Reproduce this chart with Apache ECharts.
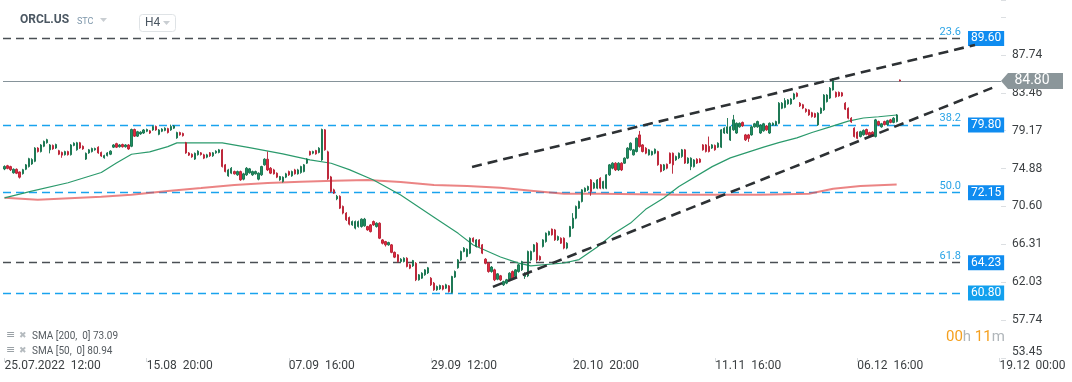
<!DOCTYPE html>
<html><head><meta charset="utf-8">
<script src="https://cdn.jsdelivr.net/npm/echarts@6/dist/echarts.min.js"></script>
<style>html,body{margin:0;padding:0;background:#fff;}#c{width:1072px;height:382px;}</style>
</head><body><div id="c"></div>
<script>
// ---------------- data ----------------
const symbolName = 'ORCL.US';
const symbolType = 'STC';
const timeframe = 'H4';
// [open, close, low, high] per H4 bar, starting 25.07.2022 12:00
const ohlc = [
[74.83,75.12,74.70,75.25],[75.20,74.90,74.80,75.30],[75.10,74.75,74.60,75.20],[74.40,74.80,74.30,74.90],[74.80,74.35,74.25,74.90],
[74.50,73.90,73.75,74.55],[74.30,74.75,74.20,74.85],[74.80,75.30,74.70,75.40],[75.10,76.00,75.00,76.10],[75.40,75.90,75.30,76.05],
[75.70,77.20,75.60,77.30],[77.20,76.80,76.70,77.30],[76.80,77.55,76.70,77.65],[77.40,77.95,77.30,78.05],[77.80,78.15,77.70,78.25],
[77.00,77.55,76.60,77.65],[77.50,77.10,77.00,77.60],[77.20,77.60,77.10,77.70],[76.90,76.50,76.40,77.00],[76.70,76.40,76.10,76.80],
[76.45,76.80,76.35,76.90],[76.80,76.45,76.35,76.90],[76.45,77.55,76.35,77.65],[77.50,77.75,77.40,77.85],[77.00,77.80,76.90,77.90],
[77.80,77.20,77.10,77.90],[77.40,77.10,77.00,77.50],[75.95,76.60,75.85,76.70],[76.65,77.00,76.55,77.10],[76.80,77.15,76.70,77.25],
[77.00,77.15,76.90,77.25],[77.30,76.65,76.55,77.40],[76.70,76.30,76.20,76.80],[76.10,76.35,76.00,76.45],[76.35,76.65,76.25,76.75],
[76.50,76.85,76.40,76.95],[77.30,77.55,77.20,77.65],[77.70,77.30,77.20,77.80],[77.35,77.55,77.25,77.65],[77.60,77.35,77.25,77.70],
[77.35,77.55,77.25,77.65],[77.55,77.10,77.00,77.65],[77.40,79.30,77.30,79.40],[79.30,78.55,78.45,79.40],[78.55,79.05,78.45,79.15],
[78.80,79.00,78.70,79.10],[78.90,79.25,78.80,79.35],[79.10,79.30,79.00,79.40],[79.15,78.90,78.80,79.25],[79.25,79.65,79.15,79.75],
[79.65,79.25,79.15,79.75],[78.75,79.25,78.65,79.35],[79.10,79.35,79.00,79.45],[79.20,79.45,79.10,79.55],[79.40,78.95,78.85,79.50],
[79.25,79.65,79.15,79.85],[79.45,79.70,79.35,79.80],[78.35,78.95,78.25,79.05],[78.95,78.70,78.60,79.05],[78.85,78.60,78.50,78.95],
[77.80,76.65,76.55,77.90],[76.65,76.40,76.30,76.75],[76.50,76.20,76.10,76.60],[75.95,76.60,75.85,76.70],[76.45,76.85,76.35,76.95],
[76.66,76.47,76.35,76.75],[76.43,76.06,75.95,76.55],[76.17,76.43,76.05,76.55],[76.66,76.32,76.20,76.75],[76.32,76.66,76.20,76.75],
[76.66,76.85,76.55,76.95],[76.70,77.00,76.60,77.10],[77.00,75.11,75.00,77.10],[75.30,74.54,74.45,75.40],[74.05,74.73,73.95,74.85],
[74.36,74.92,74.25,75.05],[74.54,74.28,74.20,74.65],[74.17,74.54,74.05,74.65],[74.54,73.60,73.50,74.65],[73.68,74.28,73.55,74.40],
[74.17,74.92,74.05,75.05],[74.40,74.85,74.30,74.95],[74.17,74.54,74.05,74.65],[74.28,74.54,74.20,74.65],[73.68,74.36,73.55,74.45],
[74.17,75.11,74.05,75.20],[75.30,75.94,75.20,76.05],[75.94,74.73,74.60,76.81],[74.92,74.36,74.25,75.05],[74.73,74.28,74.20,74.85],
[74.36,73.91,73.80,74.45],[73.60,73.98,73.50,74.05],[73.41,73.91,73.30,74.00],[73.91,74.28,73.80,74.40],[74.54,74.17,74.05,74.65],
[74.05,74.54,73.95,74.65],[74.73,74.28,74.20,74.85],[74.28,74.73,74.20,74.85],[74.43,75.11,74.30,75.20],[74.54,75.30,74.45,75.40],
[75.49,75.94,75.40,76.05],[76.81,76.43,76.35,76.90],[76.62,76.81,76.50,76.90],[76.92,76.54,76.45,77.00],[76.70,77.19,76.60,77.30],
[75.86,79.30,75.75,79.40],[79.26,77.00,76.90,79.35],[76.77,73.72,73.60,76.90],[73.94,72.28,72.15,74.05],[72.47,72.10,72.00,72.60],
[71.45,71.74,71.30,71.90],[71.74,70.40,70.30,71.85],[70.60,69.84,69.70,70.70],[69.84,69.08,68.95,69.95],[69.34,68.59,68.45,69.45],
[68.51,68.89,68.40,69.00],[68.14,68.89,68.00,69.00],[68.32,68.89,68.20,69.00],[68.32,69.16,68.20,69.25],[68.40,69.16,68.30,69.30],
[68.32,67.94,67.85,68.40],[68.51,67.75,67.65,68.60],[68.89,68.51,68.40,69.00],[68.32,68.70,68.20,68.80],[68.70,67.00,66.90,68.80],
[66.81,66.43,66.30,66.90],[66.62,66.25,66.06,66.70],[66.25,66.51,66.15,66.60],[66.25,65.40,65.30,66.35],[65.40,64.86,64.75,65.50],
[65.12,64.36,64.25,65.20],[64.36,64.63,64.25,64.75],[64.36,64.74,64.25,64.85],[64.74,63.80,63.70,64.85],[63.99,63.61,63.50,64.10],
[63.87,64.47,63.75,64.55],[64.17,62.29,62.15,64.30],[62.29,62.86,62.20,62.95],[62.48,63.05,62.40,63.15],[62.86,63.42,62.75,63.50],
[63.08,63.65,62.95,63.75],[62.48,61.73,61.60,62.60],[61.92,61.16,61.05,62.05],[61.16,61.54,61.05,61.65],[61.27,61.65,61.15,61.75],
[61.61,61.24,61.10,61.70],[61.35,61.73,61.25,61.85],[61.61,60.97,60.85,61.70],[60.85,62.67,60.75,62.75],[62.60,63.23,62.50,63.35],
[63.65,64.55,63.55,64.65],[64.55,65.50,64.45,65.60],[65.50,65.88,65.40,66.00],[64.93,65.76,64.85,65.85],[65.31,67.00,65.20,67.10],
[67.00,66.62,66.50,67.10],[66.06,66.81,65.95,66.90],[66.81,66.06,65.95,66.90],[66.25,65.31,65.20,66.35],[64.63,64.17,64.05,64.75],
[64.17,63.23,63.10,64.30],[63.23,63.74,63.10,63.85],[63.42,62.29,62.15,63.55],[62.36,62.97,62.25,63.05],[62.75,62.29,62.15,62.85],
[61.73,62.10,61.60,62.20],[61.92,62.29,61.80,62.40],[62.37,63.05,62.25,63.15],[63.23,62.48,62.35,63.35],[62.67,63.42,62.55,63.50],
[63.23,63.99,63.10,64.10],[63.42,64.36,63.30,64.45],[62.67,63.05,62.40,63.15],[62.74,65.50,62.60,65.60],[64.55,65.50,64.45,65.60],
[65.50,66.25,65.40,66.35],[66.44,64.55,64.35,66.55],[64.93,64.55,64.45,65.05],[66.06,66.81,65.95,66.90],[66.62,67.57,66.50,67.65],
[67.38,67.75,67.30,67.85],[68.03,67.38,67.30,68.10],[67.94,66.81,66.70,68.05],[66.81,67.19,66.70,67.30],[67.00,66.44,66.35,67.10],
[67.00,65.88,65.75,67.10],[65.88,66.44,65.75,66.55],[67.19,68.32,67.10,68.40],[68.15,69.27,68.05,69.84],[69.27,70.60,69.15,70.70],
[70.40,71.15,70.30,71.25],[71.15,72.47,71.05,72.55],[72.28,72.66,72.20,72.75],[72.47,72.85,72.35,72.95],[73.60,72.28,71.80,73.70],
[72.66,73.23,72.55,73.35],[72.66,73.60,72.55,73.70],[73.79,72.66,72.55,73.90],[72.66,73.42,72.55,73.50],[72.66,74.17,72.55,74.25],
[74.17,75.30,74.05,75.40],[74.92,75.49,74.80,75.60],[75.49,74.73,74.60,75.60],[74.73,75.49,74.60,75.60],[75.49,74.73,74.60,75.60],
[75.49,76.06,75.40,76.15],[76.06,77.19,75.95,77.30],[77.00,77.75,76.90,77.85],[76.43,77.00,76.35,77.10],[76.81,78.32,76.70,78.40],
[78.69,77.37,77.25,79.14],[77.56,76.81,76.70,77.65],[77.19,76.62,76.50,77.30],[76.43,77.00,76.35,77.10],[76.43,76.81,76.35,76.90],
[76.62,77.07,76.50,77.15],[76.81,75.30,75.20,76.90],[75.30,74.55,74.45,75.40],[74.73,75.30,74.60,75.40],[75.37,74.92,74.80,75.45],
[76.62,75.49,75.40,76.70],[76.62,75.30,74.30,76.70],[75.86,76.24,75.75,76.35],[76.09,76.62,75.95,76.70],
[76.24,77.00,76.10,77.10],[77.00,75.50,75.40,77.10],[75.50,76.06,75.40,76.15],[75.10,76.06,74.70,76.15],[75.10,75.86,75.00,75.95],
[75.94,75.50,75.40,76.05],[75.94,75.60,75.50,76.05],[77.56,77.00,76.90,77.65],[77.56,76.81,76.70,77.65],[77.40,76.81,76.70,78.50],
[77.20,77.56,77.10,77.65],[77.50,77.00,76.90,77.60],[77.30,77.75,77.20,77.85],[77.30,79.26,77.20,79.35],[78.90,79.45,78.80,79.55],
[78.90,79.60,78.80,80.60],[78.10,79.60,78.00,79.70],[79.26,80.39,79.15,80.95],[78.90,80.00,78.80,80.10],[79.60,80.00,79.50,80.10],
[80.10,79.70,79.60,80.20],[78.69,78.13,78.00,78.80],[78.69,78.30,77.90,78.80],[78.69,79.60,78.60,79.70],[79.60,79.95,79.50,80.05],
[79.60,80.20,79.50,80.30],[78.90,79.80,78.80,79.90],[79.15,79.95,79.05,80.05],[79.70,79.26,79.15,79.80],[78.90,80.00,78.80,80.10],
[79.80,80.00,79.70,80.10],[79.80,80.20,79.70,80.30],[80.00,82.28,79.90,82.40],[81.70,82.28,81.60,82.40],[81.80,82.57,81.70,82.85],
[82.20,82.65,82.10,82.75],[82.20,82.75,82.10,82.85],[82.75,83.33,82.65,83.45],[83.40,83.05,82.95,83.50],[82.28,81.97,81.85,82.40],
[82.10,81.72,81.60,82.20],[81.60,81.33,81.20,81.70],[81.52,80.95,80.85,81.60],[81.20,80.76,80.65,81.30],[81.10,80.70,80.60,81.20],
[79.82,81.15,79.70,81.25],[81.15,81.70,81.05,81.80],[81.52,83.20,81.40,83.30],[82.45,83.20,82.35,83.30],[82.85,83.97,82.75,84.10],
[83.78,84.85,83.70,85.10],[83.50,83.00,82.90,83.60],[83.50,83.10,83.00,83.60],[83.45,83.10,83.00,83.55],[82.28,81.60,81.50,82.40],
[81.70,80.58,80.45,81.80],[80.58,80.15,80.05,80.70],[79.45,78.50,78.40,79.55],[79.00,78.30,78.20,79.10],[78.50,79.05,78.40,79.15],
[78.70,79.20,78.60,79.30],[79.30,78.75,78.65,79.40],[78.95,78.60,78.50,79.05],[79.00,78.55,78.45,79.10],[78.50,80.39,78.40,80.50],
[80.20,79.82,79.70,80.30],[79.60,79.95,79.50,80.05],[80.20,79.85,79.75,80.30],[79.85,80.30,79.75,80.40],[80.39,80.10,80.00,80.50],
[80.10,80.58,80.00,80.70],[80.20,80.95,80.10,81.05],[84.90,84.80,84.75,84.95]
];
// SMA readings [bar index, value]
const sma200 = [[0,71.57],[11,71.34],[32,71.68],[42,71.93],[54,72.34],[65,72.68],[76,73.03],[87,73.26],[98,73.38],[109,73.49],[120,73.60],[131,73.37],[142,73.03],[153,72.92],[164,72.70],[175,72.35],[185,72.02],[197,72.02],[223,71.91],[250,71.91],[266,72.02],[274,72.60],[283,72.90],[295,73.09]];
const sma50 = [[0,71.57],[9,72.33],[21,73.28],[32,74.43],[37,75.50],[42,76.50],[48,76.77],[54,77.36],[57,77.79],[65,77.79],[72,77.79],[81,77.24],[92,76.55],[101,75.86],[108,75.48],[114,74.76],[122,73.58],[131,71.88],[142,69.38],[150,67.55],[155,66.24],[164,64.88],[170,64.18],[174,63.87],[185,64.20],[190,64.58],[196,66.00],[201,67.41],[207,68.71],[212,70.27],[218,71.55],[223,72.86],[234,75.10],[240,76.09],[251,77.31],[256,77.82],[262,78.35],[267,78.96],[273,79.60],[279,80.25],[284,80.60],[289,80.74],[295,80.94]];
// trend channel anchors [bar index, price]
const channelUpper = [[154.6,75.07],[320.9,88.87]];
const channelLower = [[161.5,61.50],[326.6,84.01]];
// Fibonacci retracement levels
const fibPrices = [89.60, 79.80, 72.15, 64.23, 60.80];
const fibRatios = ['23.6', '38.2', '50.0', '61.8', ''];
const lastPrice = 84.80;
const sma200Last = 73.09, sma50Last = 80.94;
const xTickLabels = {0:'25.07.2022  12:00', 47:'15.08  20:00', 94:'07.09  16:00', 141:'29.09  12:00', 188:'20.10  20:00', 235:'11.11  16:00', 282:'06.12  16:00', 329:'19.12  00:00'};
const yTickLabels = ['53.45','57.74','62.03','66.31','70.60','74.88','79.17','83.46','87.74'];
const slotCount = 330;
const categories = Array.from({length: slotCount}, (_, i) => String(i));

// ---------------- styles ----------------
const FONT = 'Roboto, "DejaVu Sans", sans-serif';
const fibLineColors = ['#4a4f54', '#19a3ee', '#19a3ee', '#4a4f54', '#19a3ee'];
const fibBoxColors = ['#0f8cf0', '#0f8cf0', '#0f8cf0', '#0f8cf0', '#12a0ee'];
const yMin = 53.45, yStep = 4.28625, yMax = 93.95;
const levelEnd = 317.6, axisEnd = slotCount - 0.5;

const chart = echarts.init(document.getElementById('c'), null, {renderer: 'canvas'});

const levelData = [];
fibPrices.forEach((p, k) => {
  levelData.push([
    {coord: [-0.5, p], lineStyle: {color: fibLineColors[k], type: [8, 5], width: 1.3},
     label: {show: true, position: 'end', distance: 3, formatter: p.toFixed(2), backgroundColor: fibBoxColors[k],
             color: '#fff', fontSize: 12, fontFamily: FONT, padding: [2, 3, 1, 3], lineHeight: 12}},
    {coord: [levelEnd, p]}
  ]);
  if (fibRatios[k]) {
    levelData.push([
      {coord: [-0.5, p], lineStyle: {color: 'rgba(0,0,0,0)', width: 0.01, type: 'solid'},
       label: {show: true, position: 'insideEndTop', distance: 1, offset: [-3, 0], formatter: fibRatios[k],
               color: '#2ba4e6', fontSize: 11, fontFamily: FONT}},
      {coord: [levelEnd, p]}
    ]);
  }
});
levelData.push([
  {coord: [-0.5, lastPrice], lineStyle: {color: '#86939a', type: 'solid', width: 1}, label: {show: false}},
  {coord: [axisEnd, lastPrice]}
]);

const option = {
  animation: false,
  backgroundColor: '#ffffff',
  grid: {left: 3, right: 71, top: 0, bottom: 24, containLabel: false, outerBoundsMode: 'none'},
  xAxis: [
    {type: 'category', data: categories, boundaryGap: true, gridIndex: 0,
     axisLine: {show: false, onZero: false},
     axisTick: {show: true, alignWithLabel: true, length: 4, interval: (i) => xTickLabels[i] !== undefined, lineStyle: {color: '#d8dcdf'}},
     axisLabel: {interval: (i) => xTickLabels[i] !== undefined, formatter: (v, i) => xTickLabels[i] || '', align: 'left',
                 color: '#3c4043', fontSize: 12, fontFamily: FONT, margin: 2},
     splitLine: {show: false}},
    {type: 'value', min: -0.5, max: axisEnd, show: false, gridIndex: 0, axisLine: {onZero: false}}
  ],
  yAxis: {type: 'value', position: 'right', min: yMin, max: yMax, interval: yStep, scale: false,
    axisLine: {show: false, onZero: false}, splitLine: {show: false},
    axisTick: {show: true, length: 5, lineStyle: {color: '#dcdfe2'}},
    axisLabel: {color: '#3c4043', fontSize: 12, fontFamily: FONT, margin: 11, verticalAlignMinLabel: 'bottom',
      formatter: (v) => { const k = Math.round((v - yMin) / yStep); return yTickLabels[k] || ''; }}},
  series: [
    {type: 'candlestick', name: symbolName, xAxisIndex: 0, data: ohlc, barWidth: 1.8, z: 4,
     itemStyle: {color: '#1e9063', color0: '#e02a40', borderColor: '#13714b', borderColor0: '#b81d31', borderWidth: 0.9}},
    {type: 'line', name: 'SMA200', xAxisIndex: 1, data: sma200, showSymbol: false, symbol: 'none', z: 2,
     lineStyle: {color: 'rgba(226,80,80,0.7)', width: 2}},
    {type: 'line', name: 'SMA50', xAxisIndex: 1, data: sma50, showSymbol: false, symbol: 'none', z: 3,
     lineStyle: {color: '#2b9a6c', width: 1.2},
     markLine: {silent: true, symbol: ['none', 'none'], animation: false, data: levelData, z: 1},
     markPoint: {silent: true, animation: false, data: [{
        coord: [axisEnd, lastPrice], symbol: 'path://M0,8 L7,0 L62,0 L62,16 L7,16 Z', symbolSize: [62, 16],
        symbolOffset: [31, 0], itemStyle: {color: '#8b969a'},
        label: {show: true, position: 'inside', formatter: lastPrice.toFixed(2), color: '#fff', fontSize: 14, fontFamily: FONT, offset: [0, 0]}}]}},
    {type: 'line', name: 'upper', xAxisIndex: 1, data: channelUpper, showSymbol: false, symbol: 'none', z: 6,
     lineStyle: {color: '#2d3134', width: 2.6, type: [10, 6]}},
    {type: 'line', name: 'lower', xAxisIndex: 1, data: channelLower, showSymbol: false, symbol: 'none', z: 6,
     lineStyle: {color: '#2d3134', width: 2.6, type: [10, 6]}}
  ],
  graphic: [
    {type: 'text', left: 20, top: 14, style: {text: symbolName, font: 'bold 12px ' + FONT, fill: '#4b5762'}},
    {type: 'text', left: 77, top: 17, style: {text: symbolType, font: '9px ' + FONT, fill: '#7d96aa'}},
    {type: 'polygon', shape: {points: [[100, 18], [107, 18], [103.5, 22]]}, style: {fill: '#c9ced2'}},
    {type: 'rect', shape: {x: 139.5, y: 14.5, width: 36, height: 17, r: 3}, style: {fill: '#fff', stroke: '#dfe3e6', lineWidth: 1}},
    {type: 'text', left: 145, top: 17, style: {text: timeframe, font: '12px ' + FONT, fill: '#4b5762'}},
    {type: 'polygon', shape: {points: [[163, 21], [170, 21], [166.5, 25]]}, style: {fill: '#c9ced2'}},
    {type: 'text', left: 6, top: 330, style: {text: '≡', font: '11px "DejaVu Sans"', fill: '#9aa1a6'}},
    {type: 'text', left: 19, top: 331, style: {text: '✖', font: '9px "DejaVu Sans"', fill: '#b5bbbf'}},
    {type: 'text', left: 32, top: 331, style: {text: 'SMA [200,  0] ' + sma200Last.toFixed(2), font: '10px ' + FONT, fill: '#555b60'}},
    {type: 'text', left: 6, top: 345, style: {text: '≡', font: '11px "DejaVu Sans"', fill: '#9aa1a6'}},
    {type: 'text', left: 19, top: 346, style: {text: '✖', font: '9px "DejaVu Sans"', fill: '#b5bbbf'}},
    {type: 'text', left: 32, top: 346, style: {text: 'SMA [50,  0] ' + sma50Last.toFixed(2), font: '10px ' + FONT, fill: '#555b60'}},
    {type: 'text', left: 946, top: 330, style: {
      text: '{o|00}{g|h} {o|11}{g|m}', font: '15px ' + FONT,
      rich: {o: {fill: '#f5a01e', font: '15px ' + FONT}, g: {fill: '#b0b6ba', font: '15px ' + FONT}}}}
  ]
};
chart.setOption(option);
</script>
</body></html>
